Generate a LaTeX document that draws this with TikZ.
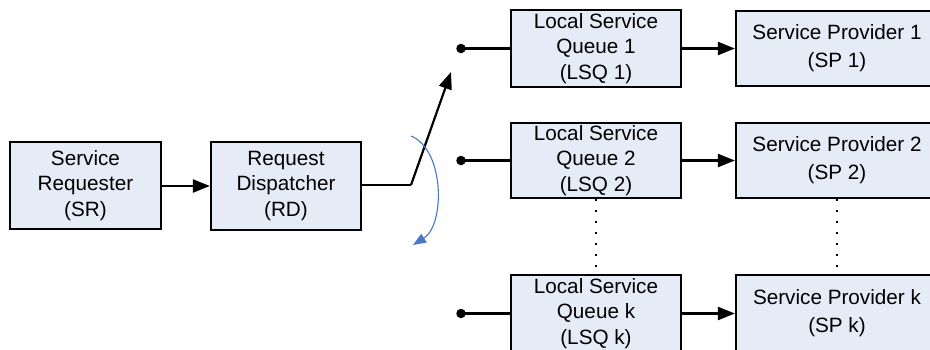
\documentclass[tikz,border=0pt]{standalone}
\usepackage{fontspec}
\setmainfont{Liberation Sans}
\usetikzlibrary{arrows.meta}
\definecolor{boxfill}{RGB}{229,235,247}
\definecolor{arcblue}{RGB}{70,120,200}
\begin{document}
\begin{tikzpicture}[x=1pt,y=-1pt,
  box/.style={draw=black,line width=2.2pt,fill=boxfill,align=center,inner sep=0pt,
    font=\fontsize{20.7}{25.5}\selectfont},
  conn/.style={line width=2.2pt,draw=black},
  arr/.style={conn,-{Triangle[length=17pt,width=13pt]}},
  dotend/.style={circle,fill=black,inner sep=0pt,minimum size=9.5pt},
  dots/.style={line width=1.5pt,dash pattern=on 1.5pt off 9.5pt}]
\useasboundingbox (0,0) rectangle (930,349);
\clip (0,0) rectangle (930,349);
\node[box,minimum width=151pt,minimum height=87pt] (sr) at (85.5,185.5) {Service\\Requester\\(SR)};
\node[box,minimum width=150pt,minimum height=88pt] (rd) at (286,186) {Request\\Dispatcher\\(RD)};
\node[box,minimum width=170pt,minimum height=77pt] (lsq1) at (596,48.5) {Local Service\\Queue 1\\(LSQ 1)};
\node[box,minimum width=170pt,minimum height=75pt] (lsq2) at (596,160.5) {Local Service\\Queue 2\\(LSQ 2)};
\node[box,minimum width=170pt,minimum height=77pt] (lsqk) at (596,313.5) {Local Service\\Queue k\\(LSQ k)};
\node[box,minimum width=202pt,minimum height=75pt,font=\fontsize{20.7}{28}\selectfont] (sp1) at (837,48.5) {Service Provider 1\\(SP 1)};
\node[box,minimum width=202pt,minimum height=75pt,font=\fontsize{20.7}{28}\selectfont] (sp2) at (837,160.5) {Service Provider 2\\(SP 2)};
\node[box,minimum width=202pt,minimum height=77pt,font=\fontsize{20.7}{28}\selectfont] (spk) at (837,313.5) {Service Provider k\\(SP k)};
\node[dotend] (d1) at (461,48.5) {};
\node[dotend] (d2) at (461,160.5) {};
\node[dotend] (dk) at (461,313.5) {};
\coordinate (bend) at (411,185);
\coordinate (tip) at (451,72);
\draw[arr] (sr.east |- 0,186) -- (rd.west |- 0,186);
\draw[conn] (rd.east |- bend) -- (bend);
\draw[arr] (bend) -- (tip);
\draw[conn] (d1.center) -- (lsq1.west);
\draw[conn] (d2.center) -- (lsq2.west);
\draw[conn] (dk.center) -- (lsqk.west);
\draw[arr] (lsq1.east) -- (sp1.west);
\draw[arr] (lsq2.east) -- (sp2.west);
\draw[arr] (lsqk.east) -- (spk.west);
\draw[dots] (lsq2.south) -- (lsqk.north);
\draw[dots] (sp2.south) -- (spk.north);
\draw[arcblue,line width=1.1pt,-{Triangle[length=13pt,width=10pt]}] (411,136) .. controls (445,150) and (445,225) .. (413,245);
\end{tikzpicture}
\end{document}
